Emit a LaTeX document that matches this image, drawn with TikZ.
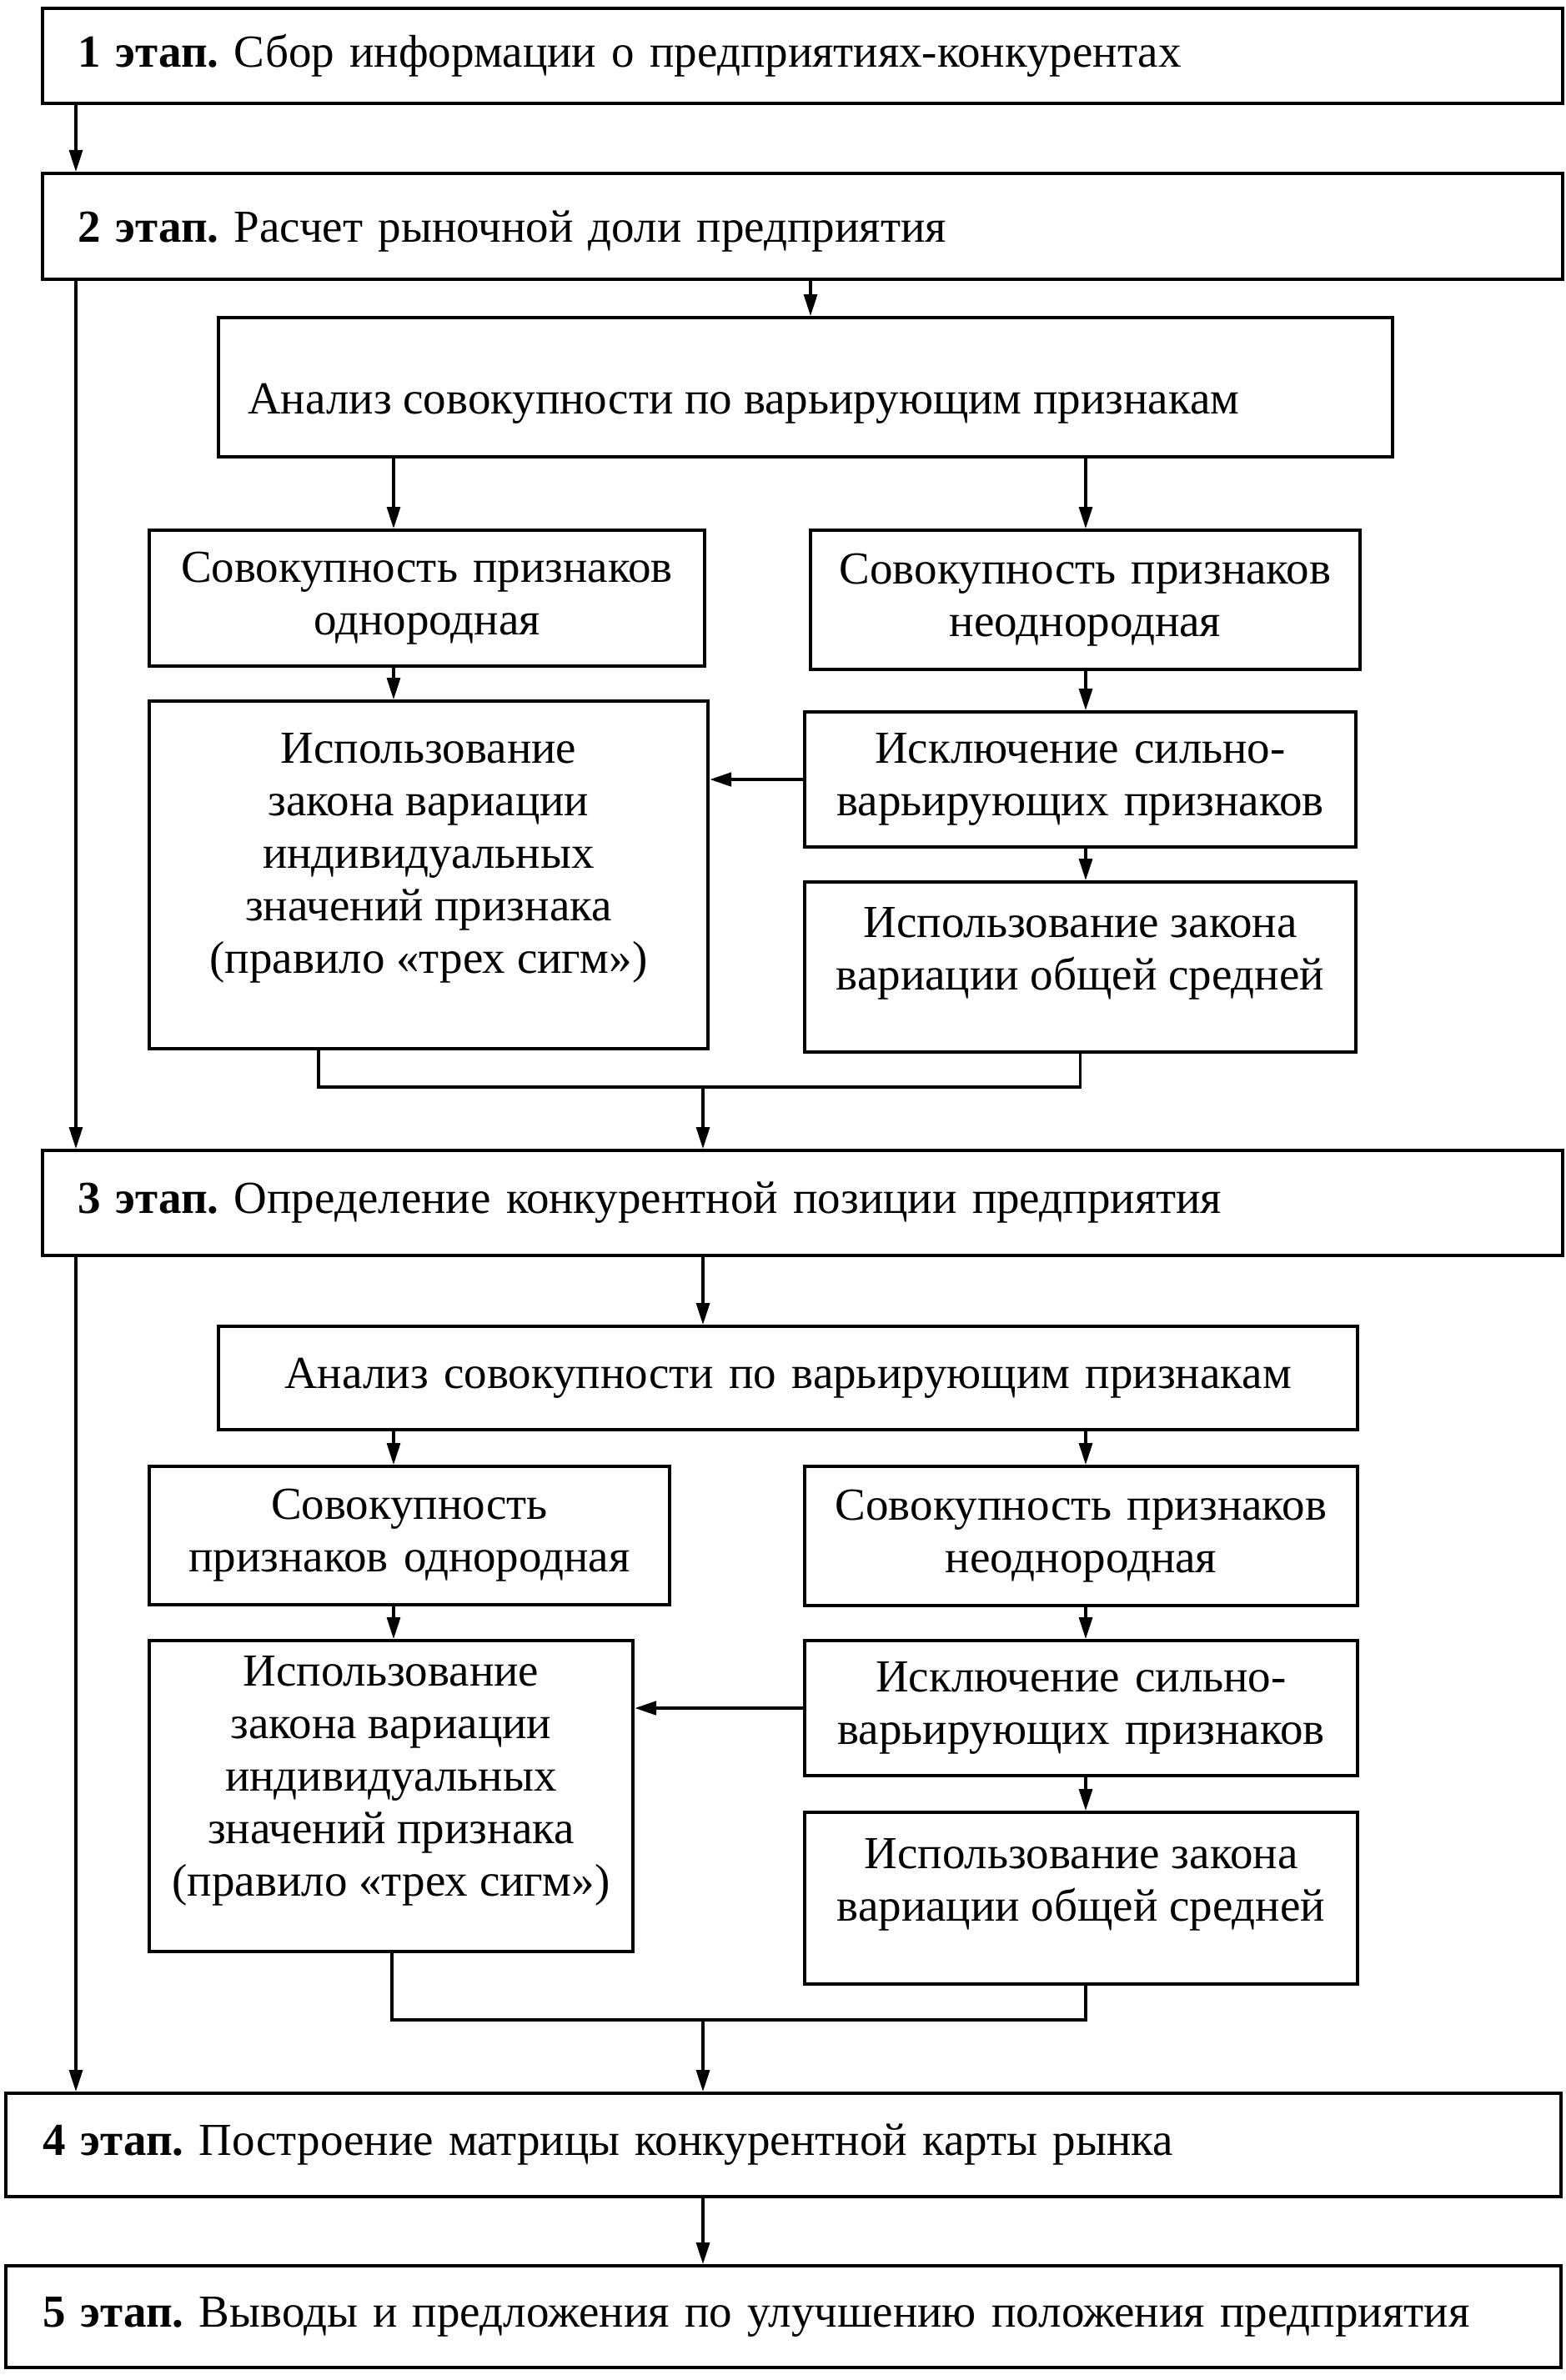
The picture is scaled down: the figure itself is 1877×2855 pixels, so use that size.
\documentclass[tikz,border=0pt]{standalone}
\usepackage{fontspec}
\setmainfont{Liberation Serif}
\usetikzlibrary{arrows.meta}
\begin{document}
\frenchspacing
\begin{tikzpicture}[x=1pt,y=-1pt,
 box/.style={draw, line width=4pt, inner sep=0pt, anchor=north west, align=center, font=\fontsize{55}{63}\selectfont},
 stage/.style={box, align=left},
 txt/.style={inner sep=0pt, align=center, font=\fontsize{55}{63}\selectfont},
 arr/.style={line width=3.2pt, -{Triangle[length=26pt,width=16pt]}},
 ln/.style={line width=3.2pt}]
\useasboundingbox[fill=white] (0,0) rectangle (1877,2855);

\node[stage, minimum width=1823pt, minimum height=114pt, text width=1739pt] (b1) at (49,8) {\textbf{1 этап.} Сбор информации о предприятиях-конкурентах};
\node[stage, minimum width=1823pt, minimum height=127pt, text width=1739pt, text depth=0pt] (b2) at (49,206) {\textbf{2 этап.} Расчет рыночной доли предприятия};
\node[box, minimum width=1408pt, minimum height=167pt] (a1) at (260,379) {};
\node[txt, anchor=west, yshift=-20pt] (a1t) at (a1.west) {\hspace*{37pt}Анализ совокупности по варьирующим признакам};
\node[box, minimum width=666pt, minimum height=163pt, text width=656pt] (l1) at (177,634) {Совокупность признаков\\однородная};
\node[box, minimum width=659pt, minimum height=167pt, text width=649pt] (r1) at (970,634) {Совокупность признаков\\неоднородная};
\node[box, minimum width=670pt, minimum height=417pt] (lb) at (177,839) {};
\node[txt, yshift=20pt] (lbt) at (lb.center) {Использование\\закона вариации\\индивидуальных\\значений признака\\(правило «трех сигм»)};
\node[box, minimum width=661pt, minimum height=162pt, text width=651pt] (r2) at (963,852) {Исключение сильно-\\варьирующих признаков};
\node[box, minimum width=661pt, minimum height=204pt] (r3) at (963,1056) {};
\node[txt, yshift=16pt] (r3t) at (r3.center) {Использование закона\\вариации общей средней};
\node[stage, minimum width=1823pt, minimum height=126pt, text width=1739pt] (b3) at (49,1378) {\textbf{3 этап.} Определение конкурентной позиции предприятия};
\node[box, minimum width=1366pt, minimum height=124pt, text width=1356pt] (a2) at (260,1589) {Анализ совокупности по варьирующим признакам};
\node[box, minimum width=624pt, minimum height=166pt, text width=614pt] (l1b) at (177,1757) {Совокупность\\признаков однородная};
\node[box, minimum width=663pt, minimum height=167pt, text width=653pt] (r1b) at (963,1757) {Совокупность признаков\\неоднородная};
\node[box, minimum width=580pt, minimum height=373pt] (lb2) at (177,1966) {};
\node[txt, yshift=18pt] (lb2t) at (lb2.center) {Использование\\закона вариации\\индивидуальных\\значений признака\\(правило «трех сигм»)};
\node[box, minimum width=663pt, minimum height=162pt, text width=653pt] (r2b) at (963,1966) {Исключение сильно-\\варьирующих признаков};
\node[box, minimum width=663pt, minimum height=206pt] (r3b) at (963,2172) {};
\node[txt, yshift=16pt] (r3bt) at (r3b.center) {Использование закона\\вариации общей средней};
\node[stage, minimum width=1865pt, minimum height=124pt, text width=1777pt] (b4) at (5,2509) {\textbf{4 этап.} Построение матрицы конкурентной карты рынка};
\node[stage, minimum width=1865pt, minimum height=122pt, text width=1777pt] (b5) at (5,2716) {\textbf{5 этап.} Выводы и предложения по улучшению положения предприятия};

\coordinate (cL) at (91,0);
\coordinate (cA) at (972,0);
\coordinate (cM) at (843,0);
\coordinate (cl) at (472,0);
\coordinate (cr) at (1302,0);
\coordinate (m1) at (382,0);
\coordinate (m2) at (470,0);
\coordinate (j1) at (843,1304);
\coordinate (j2) at (843,2423);

\draw[arr] (b1.south -| cL) -- (b2.north -| cL);
\draw[arr] (b2.south -| cL) -- (b3.north -| cL);
\draw[arr] (b3.south -| cL) -- (b4.north -| cL);
\draw[arr] (b2.south -| cA) -- (a1.north -| cA);
\draw[arr] (a1.south -| cl) -- (l1.north -| cl);
\draw[arr] (a1.south -| cr) -- (r1.north -| cr);
\draw[arr] (l1.south -| cl) -- (lb.north -| cl);
\draw[arr] (r1.south -| cr) -- (r2.north -| cr);
\draw[arr] (r2.south -| cr) -- (r3.north -| cr);
\draw[arr, line width=4.5pt] (r2.west) -- (lb.east |- r2.west);
\draw[ln] (lb.south -| m1) |- (j1) -| (r3.south);
\draw[arr] (j1) -- (b3.north -| j1);
\draw[arr] (b3.south -| cM) -- (a2.north -| cM);
\draw[arr] (a2.south -| cl) -- (l1b.north -| cl);
\draw[arr] (a2.south -| cr) -- (r1b.north -| cr);
\draw[arr] (l1b.south -| cl) -- (lb2.north -| cl);
\draw[arr] (r1b.south -| cr) -- (r2b.north -| cr);
\draw[arr] (r2b.south -| cr) -- (r3b.north -| cr);
\draw[arr, line width=4.5pt] (r2b.west) -- (lb2.east |- r2b.west);
\draw[ln] (lb2.south -| m2) |- (j2) -| (r3b.south -| cr);
\draw[arr] (j2) -- (b4.north -| j2);
\draw[arr] (b4.south -| cM) -- (b5.north -| cM);
\end{tikzpicture}
\end{document}
